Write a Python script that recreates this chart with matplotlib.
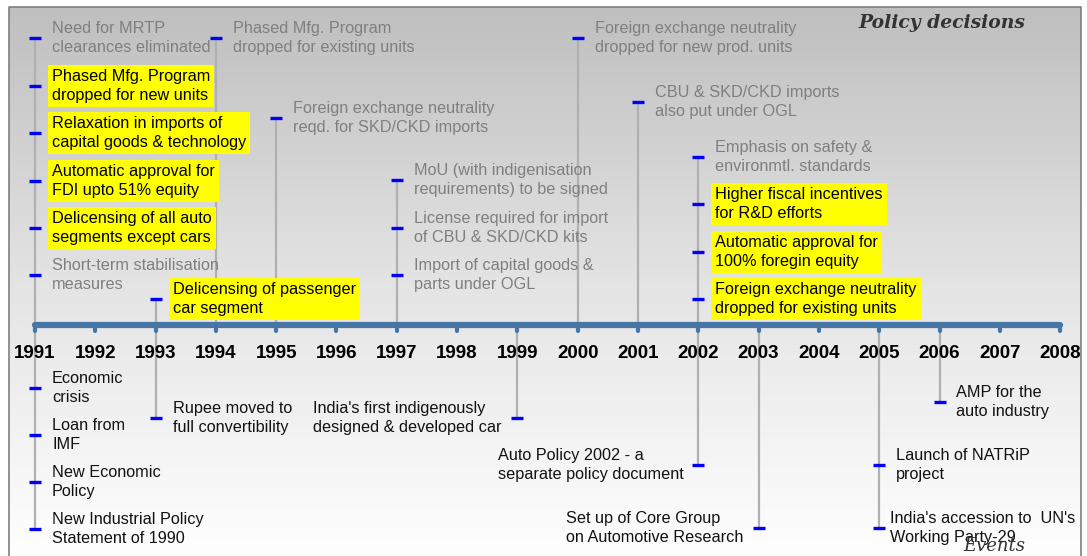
import numpy as np
import matplotlib.pyplot as plt
from matplotlib.colors import LinearSegmentedColormap

plt.rcParams['font.family'] = ['Liberation Sans', 'DejaVu Sans']

# timeline years
years = list(range(1991, 2009))

# policy decisions (above the axis)
top_years = [1991, 1991, 1991, 1991, 1991, 1991, 1993, 1994, 1995,
             1997, 1997, 1997, 2000, 2001, 2002, 2002, 2002, 2002]
top_labels = [
    'Need for MRTP\nclearances eliminated',
    'Phased Mfg. Program\ndropped for new units',
    'Relaxation in imports of\ncapital goods & technology',
    'Automatic approval for\nFDI upto 51% equity',
    'Delicensing of all auto\nsegments except cars',
    'Short-term stabilisation\nmeasures',
    'Delicensing of passenger\ncar segment',
    'Phased Mfg. Program\ndropped for existing units',
    'Foreign exchange neutrality\nreqd. for SKD/CKD imports',
    'MoU (with indigenisation\nrequirements) to be signed',
    'License required for import\nof CBU & SKD/CKD kits',
    'Import of capital goods &\nparts under OGL',
    'Foreign exchange neutrality\ndropped for new prod. units',
    'CBU & SKD/CKD imports\nalso put under OGL',
    'Emphasis on safety &\nenvironmtl. standards',
    'Higher fiscal incentives\nfor R&D efforts',
    'Automatic approval for\n100% foregin equity',
    'Foreign exchange neutrality\ndropped for existing units',
]
top_highlight = [False, True, True, True, True, False, True, False, False,
                 False, False, False, False, False, False, True, True, True]

# events (below the axis)
bottom_years = [1991, 1991, 1991, 1991, 1993, 1999, 2002, 2003, 2005, 2005, 2006]
bottom_labels = [
    'Economic\ncrisis',
    'Loan from\nIMF',
    'New Economic\nPolicy',
    'New Industrial Policy\nStatement of 1990',
    'Rupee moved to\nfull convertibility',
    "India's first indigenously\ndesigned & developed car",
    'Auto Policy 2002 - a\nseparate policy document',
    'Set up of Core Group\non Automotive Research',
    'Launch of NATRiP\nproject',
    "India's accession to  UN's\nWorking Party-29",
    'AMP for the\nauto industry',
]

# layout (pixel rows / offsets) for the labels
top_y = [38, 86, 133, 181, 228, 275, 299, 38, 118,
         180, 228, 275, 38, 102, 157, 204, 252, 299]
bottom_y = [388, 435, 482, 529, 418, 418, 465, 528, 465, 528, 402]
bottom_left = [False, False, False, False, False, True, True, True, False, False, False]
bottom_dx = [17, 17, 17, 17, 17, 16, 15, 15, 17, 11, 17]

W, H = 1087, 556
axis_y = 325
step = 60.3  # pixels per year
x0 = 1991 - 35 / step


def px(p):
    return x0 + p / step


fig = plt.figure(figsize=(W / 100, H / 100), dpi=100)
ax = fig.add_axes([0, 0, 1, 1])
ax.set_xlim(x0, px(W))
ax.set_ylim(H, 0)
ax.axis('off')

# background gradient inside the frame
cmap = LinearSegmentedColormap.from_list('bg', ['#bfbfbf', '#e4e4e4', '#ffffff'])
grad = np.linspace(0, 1, 256).reshape(-1, 1)
ax.imshow(grad, cmap=cmap, extent=[px(9), px(1081), H + 5, 7], aspect='auto', zorder=0)
ax.plot([px(9), px(9), px(1081), px(1081)], [H + 5, 7, 7, H + 5], color='#7f7f7f', lw=1.2, zorder=1)

gray_line = '#b0b0b0'
fs = 11.7
ls = 1.32

# vertical stems
for yr in sorted(set(top_years)):
    ys = [y for t, y in zip(top_years, top_y) if t == yr]
    ax.plot([yr, yr], [axis_y, min(ys)], color=gray_line, lw=1.6, zorder=2)
for yr in sorted(set(bottom_years)):
    ys = [y for t, y in zip(bottom_years, bottom_y) if t == yr]
    ax.plot([yr, yr], [axis_y, max(ys)], color=gray_line, lw=1.6, zorder=2)

# main axis
axis_col = '#4676a6'
ax.plot([years[0], years[-1]], [axis_y, axis_y], color=axis_col, lw=4.5,
        solid_capstyle='round', zorder=3)
ax.vlines(years, axis_y, axis_y + 6, color=axis_col, lw=3, capstyle='round', zorder=3)
for yr in years:
    ax.text(yr, 353, str(yr), ha='center', va='center', fontsize=13.5,
            fontweight='bold', color='black', zorder=5)

# markers
ax.plot(top_years, top_y, ls='none', marker='_', ms=9, mew=2.4, color='#0000ff', zorder=6)
ax.plot(bottom_years, bottom_y, ls='none', marker='_', ms=9, mew=2.4, color='#0000ff', zorder=6)

# labels above
for yr, lab, y, hl in zip(top_years, top_labels, top_y, top_highlight):
    kw = dict(ha='left', va='center', fontsize=fs, linespacing=ls, zorder=7)
    if hl:
        ax.text(yr + 17 / step, y, lab, color='black',
                bbox=dict(boxstyle='square,pad=0.25', fc='#ffff00', ec='none'), **kw)
    else:
        ax.text(yr + 17 / step, y, lab, color='#7f7f7f', **kw)

# labels below
for yr, lab, y, left, d in zip(bottom_years, bottom_labels, bottom_y, bottom_left, bottom_dx):
    if left:
        ax.text(yr - d / step, y, lab, ha='right', va='center', multialignment='left',
                fontsize=fs, linespacing=ls, color='#111111', zorder=7)
    else:
        ax.text(yr + d / step, y, lab, ha='left', va='center', fontsize=fs,
                linespacing=ls, color='#111111', zorder=7)

ax.text(px(1025), 23, 'Policy decisions', ha='right', va='center', fontsize=13.5,
        family='DejaVu Serif', fontweight='bold', fontstyle='italic', color='#333333', zorder=8)
ax.text(px(1025), 555, 'Events', ha='right', va='bottom', fontsize=13,
        family='DejaVu Serif', fontstyle='italic', color='#333333', zorder=8)

fig.savefig('out.png', dpi=100)
